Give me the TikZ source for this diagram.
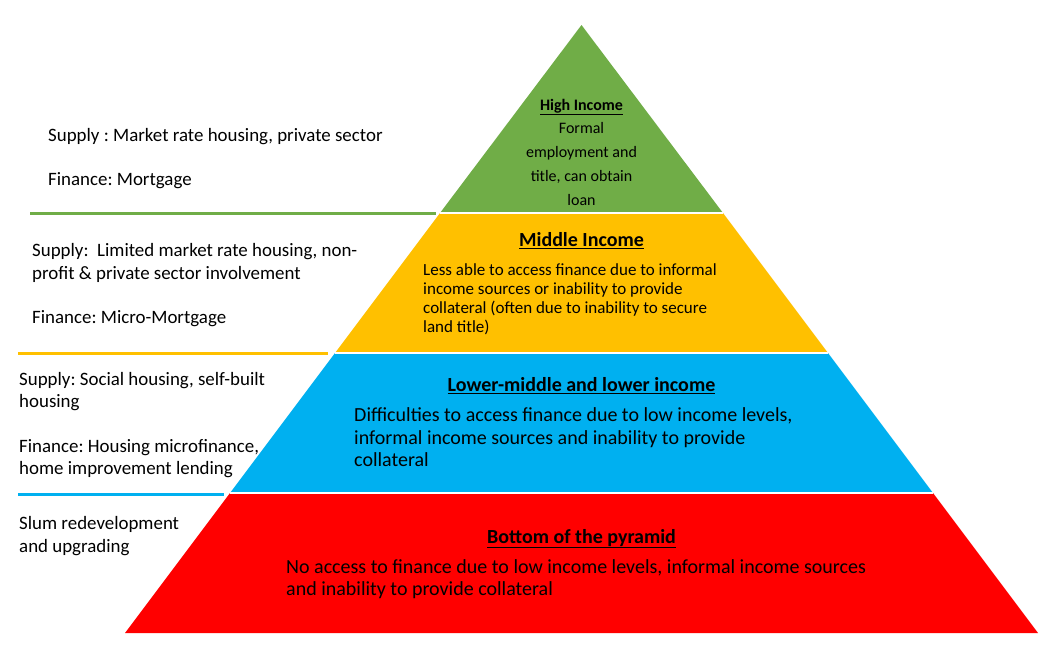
\documentclass[tikz,border=0pt]{standalone}
\usepackage{fontspec}
\setmainfont{Carlito}
\frenchspacing
\definecolor{tiergreen}{HTML}{70AD47}
\definecolor{tieryellow}{HTML}{FFC000}
\definecolor{tierblue}{HTML}{00B0F0}
\definecolor{tierred}{HTML}{FF0000}
% multi-line nodes are placed by the baseline of their last line
\tikzset{
  gap/.style={draw=white, line width=2},
  rule/.style={line width=3},
  sidetext/.style={anchor=base west, align=left, inner sep=0, text=black,
    font=\fontsize{18.9}{22.5}\selectfont},
  headtext/.style={anchor=base, align=center, inner sep=0},
  bodytext/.style={anchor=base west, align=left, inner sep=0},
}
\newcommand{\headline}[1]{\underline{#1}}
\begin{document}
\begin{tikzpicture}[x=1pt,y=-1pt]
\useasboundingbox[fill=white] (0,0) rectangle (1054,653);

% pyramid corners
\coordinate (apex) at (581.5,25);
\coordinate (gl) at (440,213);  \coordinate (gr) at (723,213);
\coordinate (yl) at (335,353);  \coordinate (yr) at (828,353);
\coordinate (bl) at (230,493);  \coordinate (br) at (933,493);
\coordinate (rl) at (125,633);  \coordinate (rr) at (1038,633);

% tiers, bottom to top
\fill[tierred]    (bl) -- (br) -- (rr) -- (rl) -- cycle;
\fill[tierblue]   (yl) -- (yr) -- (br) -- (bl) -- cycle;
\fill[tieryellow] (gl) -- (gr) -- (yr) -- (yl) -- cycle;
\fill[tiergreen]  (apex) -- (gr) -- (gl) -- cycle;
\draw[gap] (gl) -- (gr);
\draw[gap] (yl) -- (yr);
\draw[gap] (bl) -- (br);

% coloured separators on the left
\coordinate (s1a) at (30,213);  \coordinate (s1b) at (436,213);
\coordinate (s2a) at (18,353);  \coordinate (s2b) at (328,353);
\coordinate (s3a) at (18,494);  \coordinate (s3b) at (224,494);
\draw[rule, tiergreen]  (s1a) -- (s1b);
\draw[rule, tieryellow] (s2a) -- (s2b);
\draw[rule, tierblue]   (s3a) -- (s3b);

% tier texts
\node[headtext, font=\fontsize{16}{24}\selectfont\bfseries] (hihead) at (581.5,110) {\headline{High Income}};
\node[headtext, font=\fontsize{16}{24}\selectfont] (hibody) at (581.5,205.3)
  {Formal\\employment and\\title, can obtain\\loan};

\node[headtext, font=\fontsize{20}{24}\selectfont\bfseries] (midhead) at (581.5,246.7) {\headline{Middle Income}};
\node[bodytext, font=\fontsize{17}{19}\selectfont] (midbody) at (423,332)
  {Less able to access finance due to informal\\income sources or inability to provide\\collateral (often due to inability to secure\\land title)};

\node[headtext, font=\fontsize{20}{24}\selectfont\bfseries] (lowhead) at (581.5,391.7) {\headline{Lower-middle and lower income}};
\node[bodytext, font=\fontsize{20}{22.5}\selectfont] (lowbody) at (354,466.5)
  {Difficulties to access finance due to low income levels,\\informal income sources and inability to provide\\collateral};

\node[headtext, font=\fontsize{20}{22}\selectfont\bfseries] (bothead) at (581.5,543) {\headline{Bottom of the pyramid}};
\node[bodytext, font=\fontsize{20}{22}\selectfont] (botbody) at (286,595)
  {No access to finance due to low income levels, informal income sources\\and inability to provide collateral};

% supply and finance notes
\node[sidetext] (hisupply) at (48,141.5) {Supply : Market rate housing, private sector};
\node[sidetext] (hifin) at (48,185) {Finance: Mortgage};

\node[sidetext] (midsupply) at (32,279) {Supply:\ \ Limited market rate housing, non-\\profit \& private sector involvement};
\node[sidetext] (midfin) at (32,323) {Finance: Micro-Mortgage};

\node[sidetext] (lowsupply) at (19,407.5) {Supply: Social housing, self-built\\housing};
\node[sidetext] (lowfin) at (19,474.5) {Finance: Housing microfinance,\\home improvement lending};

\node[sidetext] (botside) at (19,552) {Slum redevelopment\\and upgrading};
\end{tikzpicture}
\end{document}
